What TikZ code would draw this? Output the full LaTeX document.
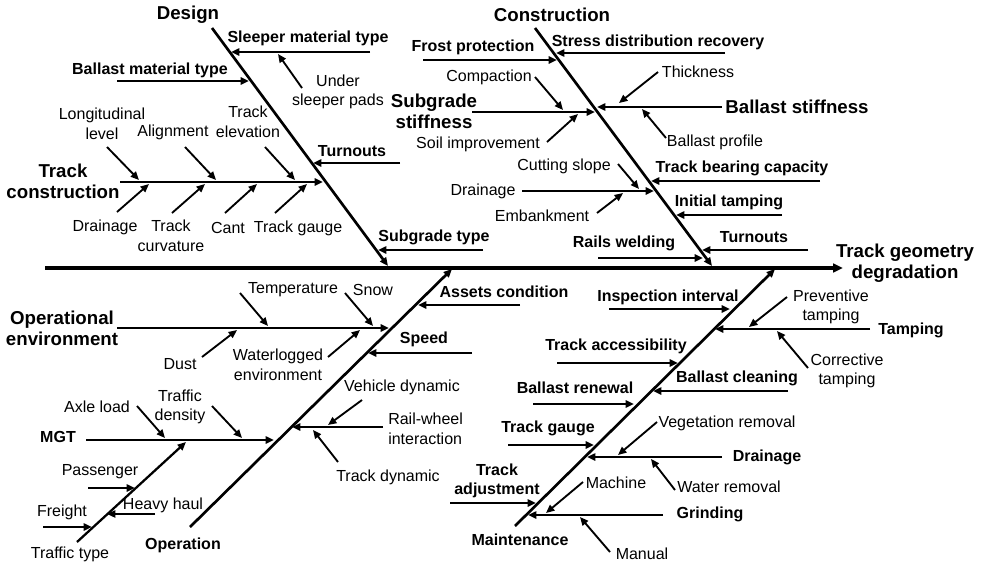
\documentclass[tikz,border=0pt]{standalone}
\usepackage{fontspec}
\setmainfont{Liberation Sans}
\usetikzlibrary{arrows.meta}
\begin{document}
\begin{tikzpicture}[x=0.75pt,y=-0.75pt,
  tip/.style={-{Triangle[length=6.3pt,width=5.4pt]}},
  spine/.style={line width=2.3pt,-{Triangle[length=7.5pt,width=6.5pt]}},
  bone/.style={line width=2pt,tip},
  cause/.style={line width=1.7pt,tip},
  thick cause/.style={line width=2.2pt,tip},
  sub/.style={line width=1.4pt,tip},
  lab/.style={font=\fontsize{12}{14.6}\selectfont,inner sep=0pt,align=center},
  blab/.style={font=\fontsize{12}{14.6}\selectfont\bfseries,inner sep=0pt,align=center},
  head/.style={font=\fontsize{14}{16}\selectfont\bfseries,inner sep=0pt,align=center}]
\useasboundingbox (0,0) rectangle (981,564);

% ---------- spine and effect ----------
\coordinate (sp1) at (45,268);
\coordinate (sp2) at (843,268);
\draw[spine] (sp1) -- (sp2);
\node[head] (eff) at (905,263) {Track geometry\\degradation};

% ---------- Design ----------
\coordinate (d1) at (212,28);
\coordinate (d2) at (388,266);
\draw[bone] (d1) -- (d2);
\node[head] (dlab) at (188,15) {Design};

\coordinate (ds1) at (370,52);  \coordinate (ds2) at (231,52);
\draw[cause] (ds1) -- (ds2);
\node[blab] (dslab) at (308,38) {Sleeper material type};
\coordinate (du1) at (302,88);  \coordinate (du2) at (278,54);
\draw[sub] (du1) -- (du2);
\node[lab] (dulab) at (338,92) {Under\\sleeper pads};

\coordinate (db1) at (117,81);  \coordinate (db2) at (249,81);
\draw[cause] (db1) -- (db2);
\node[blab] (dblab) at (150,70) {Ballast material type};

\coordinate (dt1) at (400,163); \coordinate (dt2) at (313,163);
\draw[cause] (dt1) -- (dt2);
\node[blab] (dtlab) at (352,151) {Turnouts};

\coordinate (dc1) at (120,182); \coordinate (dc2) at (323,182);
\draw[cause] (dc1) -- (dc2);
\node[head] (dclab) at (63,181) {Track\\construction};
\coordinate (dl1) at (107,147); \coordinate (dl2) at (139,180);
\draw[sub] (dl1) -- (dl2);
\node[lab] (dllab) at (102,124) {Longitudinal\\level};
\coordinate (da1) at (185,147); \coordinate (da2) at (216,180);
\draw[sub] (da1) -- (da2);
\node[lab] (dalab) at (173,132) {Alignment};
\coordinate (de1) at (265,147); \coordinate (de2) at (295,180);
\draw[sub] (de1) -- (de2);
\node[lab] (delab) at (248,122) {Track\\elevation};
\coordinate (dd1) at (117,212); \coordinate (dd2) at (149,184);
\draw[sub] (dd1) -- (dd2);
\node[lab] (ddlab) at (105,227) {Drainage};
\coordinate (dv1) at (172,213); \coordinate (dv2) at (205,184);
\draw[sub] (dv1) -- (dv2);
\node[lab] (dvlab) at (171,236) {Track\\curvature};
\coordinate (dn1) at (225,213); \coordinate (dn2) at (257,184);
\draw[sub] (dn1) -- (dn2);
\node[lab] (dnlab) at (228,228) {Cant};
\coordinate (dg1) at (275,213); \coordinate (dg2) at (307,184);
\draw[sub] (dg1) -- (dg2);
\node[lab] (dglab) at (298,228) {Track gauge};

\coordinate (dy1) at (483,250); \coordinate (dy2) at (378,250);
\draw[cause] (dy1) -- (dy2);
\node[blab] (dylab) at (434,237) {Subgrade type};

% ---------- Construction ----------
\coordinate (c1) at (535,28);
\coordinate (c2) at (712,266);
\draw[bone] (c1) -- (c2);
\node[head] (clab) at (552,15) {Construction};

\coordinate (cs1) at (725,53);  \coordinate (cs2) at (556,53);
\draw[cause] (cs1) -- (cs2);
\node[blab] (cslab) at (658,42) {Stress distribution recovery};
\coordinate (cf1) at (423,60);  \coordinate (cf2) at (557,60);
\draw[cause] (cf1) -- (cf2);
\node[blab] (cflab) at (473,47) {Frost protection};

\coordinate (cb1) at (722,107); \coordinate (cb2) at (597,107);
\draw[cause] (cb1) -- (cb2);
\node[head] (cblab) at (797,107) {Ballast stiffness};
\coordinate (ct1) at (658,72);  \coordinate (ct2) at (619,103);
\draw[sub] (ct1) -- (ct2);
\node[lab] (ctlab) at (698,72) {Thickness};
\coordinate (cp1) at (666,138); \coordinate (cp2) at (642,109);
\draw[sub] (cp1) -- (cp2);
\node[lab] (cplab) at (715,142) {Ballast profile};

\coordinate (cg1) at (472,112); \coordinate (cg2) at (595,112);
\draw[cause] (cg1) -- (cg2);
\node[head] (cglab) at (434,111) {Subgrade\\stiffness};
\coordinate (cm1) at (535,77);  \coordinate (cm2) at (563,110);
\draw[sub] (cm1) -- (cm2);
\node[lab] (cmlab) at (489,77) {Compaction};
\coordinate (ci1) at (547,142); \coordinate (ci2) at (578,114);
\draw[sub] (ci1) -- (ci2);
\node[lab] (cilab) at (478,144) {Soil improvement};

\coordinate (cc1) at (820,181); \coordinate (cc2) at (651,181);
\draw[cause] (cc1) -- (cc2);
\node[blab] (cclab) at (742,168) {Track bearing capacity};

\coordinate (cd1) at (522,191); \coordinate (cd2) at (654,191);
\draw[cause] (cd1) -- (cd2);
\node[lab] (cdlab) at (483,191) {Drainage};
\coordinate (cu1) at (618,164); \coordinate (cu2) at (639,189);
\draw[sub] (cu1) -- (cu2);
\node[lab] (culab) at (564,166) {Cutting slope};
\coordinate (ce1) at (597,213); \coordinate (ce2) at (623,193);
\draw[sub] (ce1) -- (ce2);
\node[lab] (celab) at (542,216) {Embankment};

\coordinate (cn1) at (782,215); \coordinate (cn2) at (676,215);
\draw[cause] (cn1) -- (cn2);
\node[blab] (cnlab) at (729,202) {Initial tamping};
\coordinate (co1) at (808,250); \coordinate (co2) at (702,250);
\draw[cause] (co1) -- (co2);
\node[blab] (colab) at (754,237) {Turnouts};
\coordinate (cr1) at (598,258); \coordinate (cr2) at (703,258);
\draw[cause] (cr1) -- (cr2);
\node[blab] (crlab) at (624,243) {Rails welding};

% ---------- Operation ----------
\coordinate (o1) at (190,527);
\coordinate (o2) at (452,269);
\draw[bone] (o1) -- (o2);
\node[blab] (olab) at (183,545) {Operation};

\coordinate (oa1) at (520,305); \coordinate (oa2) at (418,305);
\draw[cause] (oa1) -- (oa2);
\node[blab] (oalab) at (504,292) {Assets condition};
\coordinate (os1) at (472,353); \coordinate (os2) at (368,353);
\draw[cause] (os1) -- (os2);
\node[blab] (oslab) at (424,339) {Speed};

\coordinate (oe1) at (117,328); \coordinate (oe2) at (389,328);
\draw[cause] (oe1) -- (oe2);
\node[head] (oelab) at (62,328) {Operational\\environment};
\coordinate (ot1) at (240,293); \coordinate (ot2) at (268,326);
\draw[sub] (ot1) -- (ot2);
\node[lab] (otlab) at (293,290) {Temperature};
\coordinate (ow1) at (345,293); \coordinate (ow2) at (373,326);
\draw[sub] (ow1) -- (ow2);
\node[lab] (owlab) at (373,290) {Snow};
\coordinate (ou1) at (202,357); \coordinate (ou2) at (237,330);
\draw[sub] (ou1) -- (ou2);
\node[lab] (oulab) at (180,364) {Dust};
\coordinate (ol1) at (328,357); \coordinate (ol2) at (360,330);
\draw[sub] (ol1) -- (ol2);
\node[lab] (ollab) at (278,365) {Waterlogged\\environment};

\coordinate (or1) at (383,427); \coordinate (or2) at (292,427);
\draw[cause] (or1) -- (or2);
\node[lab,anchor=west,align=left] (orlab) at (388,429) {Rail-wheel\\interaction};
\coordinate (ov1) at (362,400); \coordinate (ov2) at (328,425);
\draw[sub] (ov1) -- (ov2);
\node[lab] (ovlab) at (402,387) {Vehicle dynamic};
\coordinate (oy1) at (338,462); \coordinate (oy2) at (313,430);
\draw[sub] (oy1) -- (oy2);
\node[lab] (oylab) at (388,477) {Track dynamic};

\coordinate (om1) at (86,440);  \coordinate (om2) at (274,440);
\draw[cause] (om1) -- (om2);
\node[blab] (omlab) at (58,437) {MGT};
\coordinate (ox1) at (137,406); \coordinate (ox2) at (165,438);
\draw[sub] (ox1) -- (ox2);
\node[lab] (oxlab) at (97,407) {Axle load};
\coordinate (od1) at (212,406); \coordinate (od2) at (242,438);
\draw[sub] (od1) -- (od2);
\node[lab] (odlab) at (180,407) {Traffic\\density};

\coordinate (oT1) at (77,542);  \coordinate (oT2) at (186,442);
\draw[cause] (oT1) -- (oT2);
\node[lab] (oTlab) at (70,554) {Traffic type};
\coordinate (op1) at (88,488);  \coordinate (op2) at (135,488);
\draw[thick cause] (op1) -- (op2);
\node[lab] (oplab) at (100,472) {Passenger};
\coordinate (og1) at (43,527);  \coordinate (og2) at (92,527);
\draw[thick cause] (og1) -- (og2);
\node[lab] (oglab) at (62,512) {Freight};
\coordinate (oh1) at (155,514); \coordinate (oh2) at (107,514);
\draw[sub] (oh1) -- (oh2);
\node[lab] (ohlab) at (163,505) {Heavy haul};

% ---------- Maintenance ----------
\coordinate (m1) at (515,526);
\coordinate (m2) at (775,269);
\draw[bone] (m1) -- (m2);
\node[blab] (mlab) at (520,540) {Maintenance};

\coordinate (mi1) at (609,309); \coordinate (mi2) at (730,309);
\draw[cause] (mi1) -- (mi2);
\node[blab] (milab) at (668,297) {Inspection interval};

\coordinate (mt1) at (870,329); \coordinate (mt2) at (715,329);
\draw[cause] (mt1) -- (mt2);
\node[blab] (mtlab) at (911,330) {Tamping};
\coordinate (mp1) at (787,297); \coordinate (mp2) at (749,327);
\draw[sub] (mp1) -- (mp2);
\node[lab] (mplab) at (831,307) {Preventive\\tamping};
\coordinate (mc1) at (808,368); \coordinate (mc2) at (777,331);
\draw[sub] (mc1) -- (mc2);
\node[lab] (mclab) at (847,371) {Corrective\\tamping};

\coordinate (ma1) at (557,363); \coordinate (ma2) at (678,363);
\draw[cause] (ma1) -- (ma2);
\node[blab] (malab) at (616,346) {Track accessibility};
\coordinate (mb1) at (788,391); \coordinate (mb2) at (653,391);
\draw[cause] (mb1) -- (mb2);
\node[blab] (mblab) at (737,378) {Ballast cleaning};
\coordinate (mr1) at (533,404); \coordinate (mr2) at (634,404);
\draw[cause] (mr1) -- (mr2);
\node[blab] (mrlab) at (575,388) {Ballast renewal};

\coordinate (md1) at (722,457); \coordinate (md2) at (587,457);
\draw[cause] (md1) -- (md2);
\node[blab] (mdlab) at (767,457) {Drainage};
\coordinate (mv1) at (657,422); \coordinate (mv2) at (618,455);
\draw[sub] (mv1) -- (mv2);
\node[lab] (mvlab) at (727,423) {Vegetation removal};
\coordinate (mw1) at (675,490); \coordinate (mw2) at (651,459);
\draw[sub] (mw1) -- (mw2);
\node[lab] (mwlab) at (729,487) {Water removal};

\coordinate (mg1) at (508,445); \coordinate (mg2) at (594,445);
\draw[cause] (mg1) -- (mg2);
\node[blab] (mglab) at (548,428) {Track gauge};

\coordinate (mn1) at (663,515); \coordinate (mn2) at (528,515);
\draw[cause] (mn1) -- (mn2);
\node[blab] (mnlab) at (710,514) {Grinding};
\coordinate (mh1) at (583,482); \coordinate (mh2) at (546,513);
\draw[sub] (mh1) -- (mh2);
\node[lab] (mhlab) at (616,483) {Machine};
\coordinate (mu1) at (610,552); \coordinate (mu2) at (580,517);
\draw[sub] (mu1) -- (mu2);
\node[lab] (mulab) at (642,554) {Manual};

\coordinate (mj1) at (450,503); \coordinate (mj2) at (536,503);
\draw[cause] (mj1) -- (mj2);
\node[blab] (mjlab) at (497,481) {Track\\adjustment};
\end{tikzpicture}
\end{document}
